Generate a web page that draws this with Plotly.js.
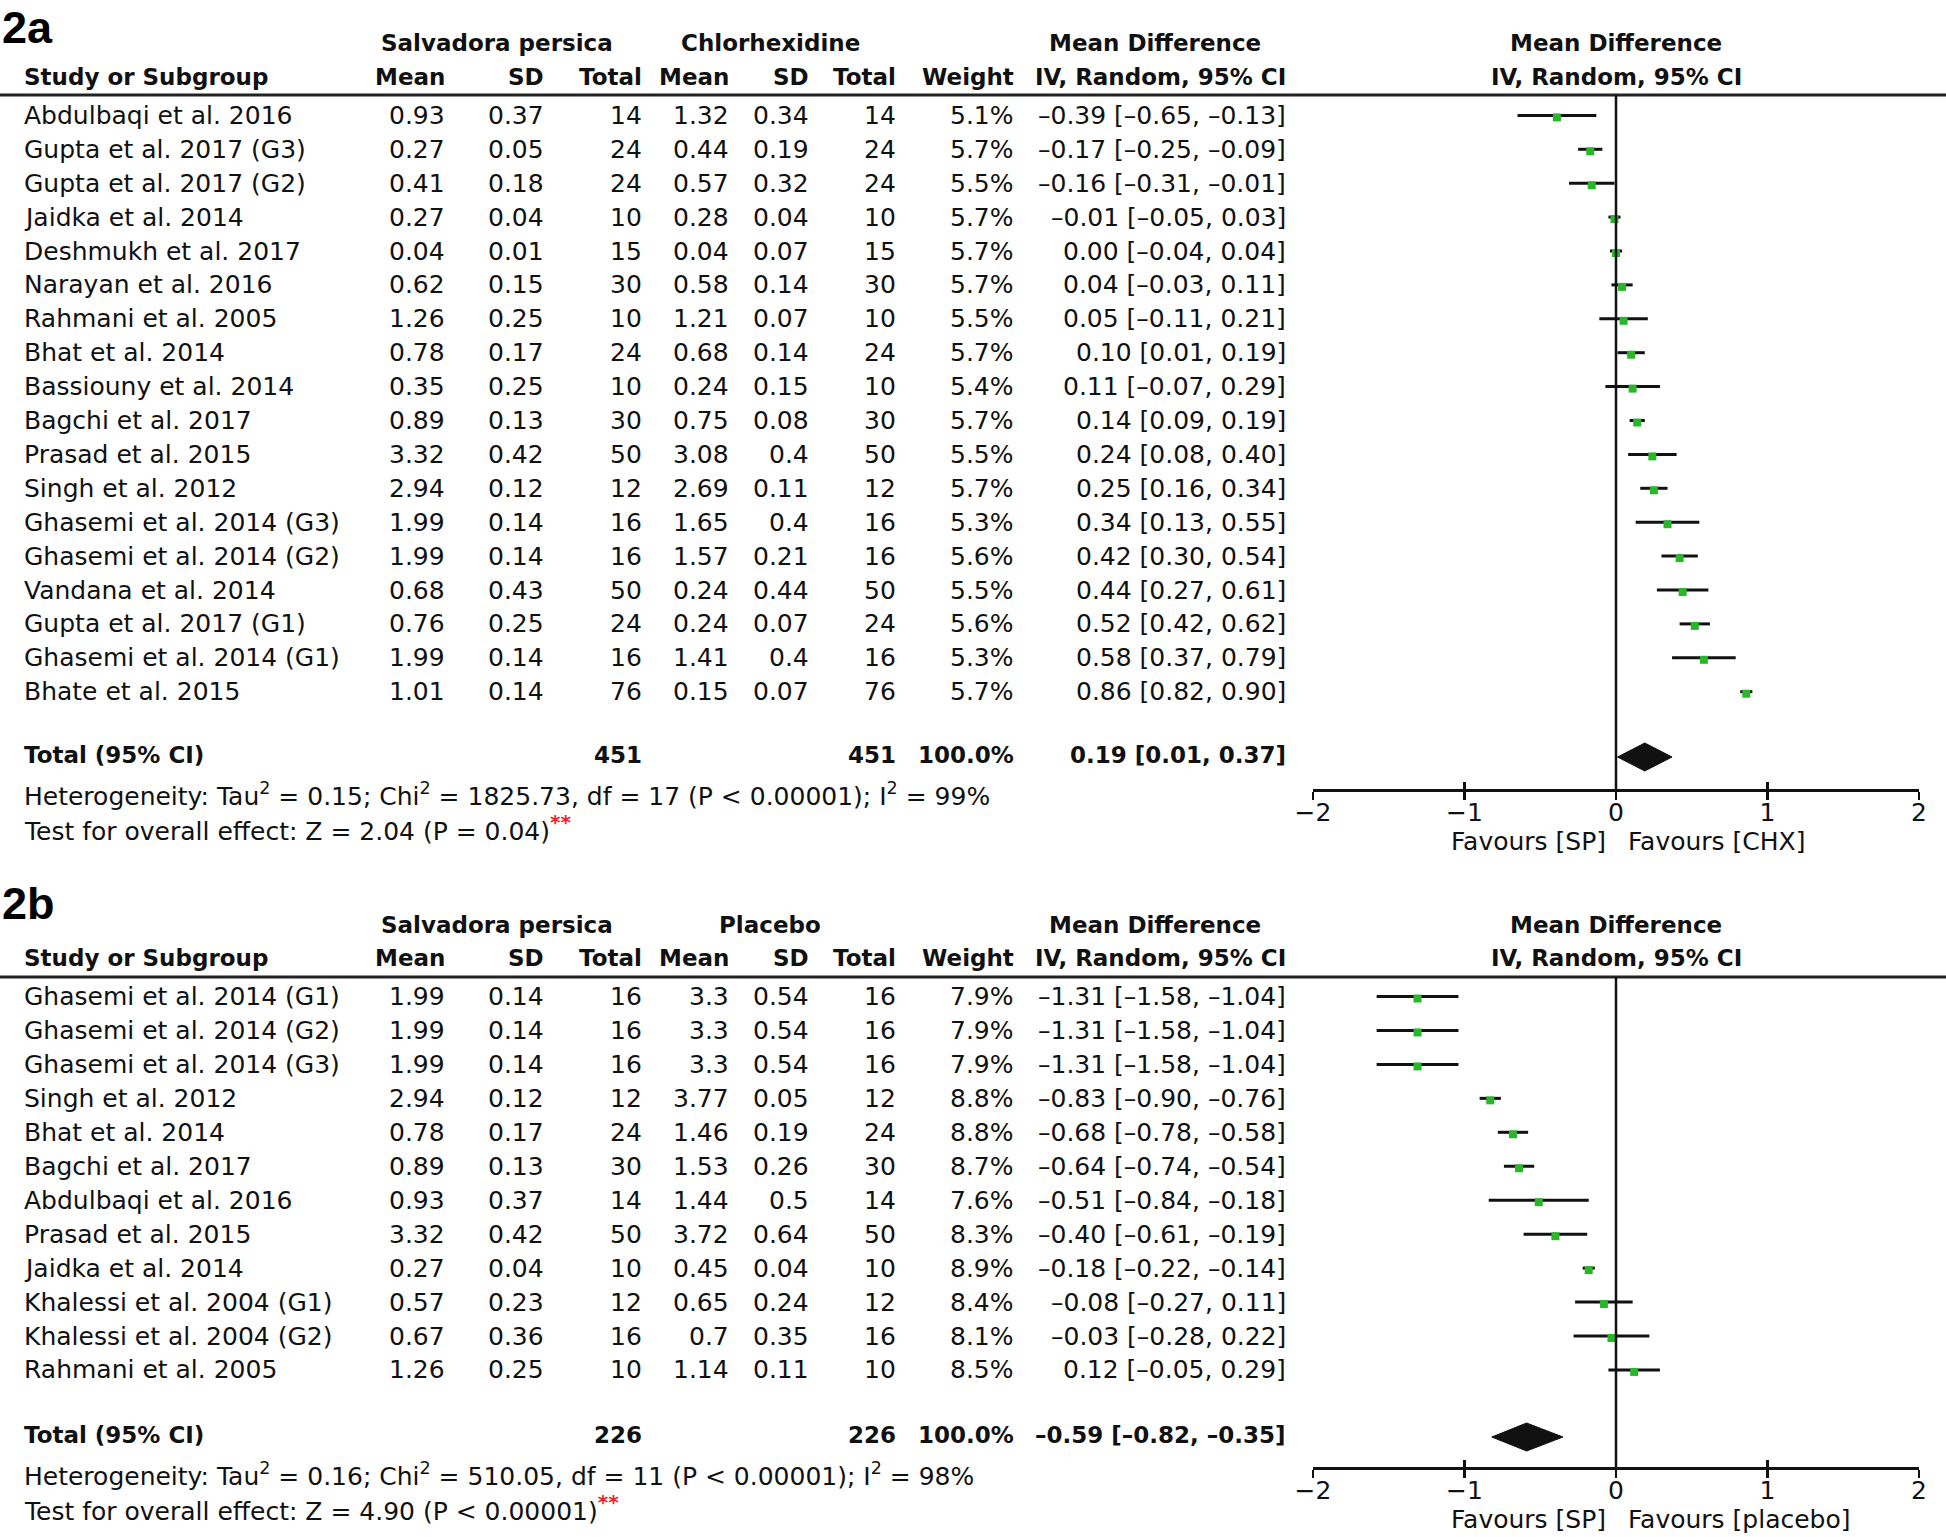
<!DOCTYPE html>
<html><head><meta charset="utf-8">
<script src="https://cdn.plot.ly/plotly-3.0.1.min.js"></script>
<style>html,body{margin:0;padding:0;background:#fff}#chart{width:1946px;height:1537px}</style>
</head><body><div id="chart"></div>
<script>
// ---------- Panel 2a : Salvadora persica vs Chlorhexidine ----------
const studiesA = ["Abdulbaqi et al. 2016","Gupta et al. 2017 (G3)","Gupta et al. 2017 (G2)","Jaidka et al. 2014","Deshmukh et al. 2017","Narayan et al. 2016","Rahmani et al. 2005","Bhat et al. 2014","Bassiouny et al. 2014","Bagchi et al. 2017","Prasad et al. 2015","Singh et al. 2012","Ghasemi et al. 2014 (G3)","Ghasemi et al. 2014 (G2)","Vandana et al. 2014","Gupta et al. 2017 (G1)","Ghasemi et al. 2014 (G1)","Bhate et al. 2015"];
const spMeanA = ["0.93","0.27","0.41","0.27","0.04","0.62","1.26","0.78","0.35","0.89","3.32","2.94","1.99","1.99","0.68","0.76","1.99","1.01"];
const spSdA   = ["0.37","0.05","0.18","0.04","0.01","0.15","0.25","0.17","0.25","0.13","0.42","0.12","0.14","0.14","0.43","0.25","0.14","0.14"];
const spNA    = [14,24,24,10,15,30,10,24,10,30,50,12,16,16,50,24,16,76];
const ctMeanA = ["1.32","0.44","0.57","0.28","0.04","0.58","1.21","0.68","0.24","0.75","3.08","2.69","1.65","1.57","0.24","0.24","1.41","0.15"];
const ctSdA   = ["0.34","0.19","0.32","0.04","0.07","0.14","0.07","0.14","0.15","0.08","0.4","0.11","0.4","0.21","0.44","0.07","0.4","0.07"];
const ctNA    = [14,24,24,10,15,30,10,24,10,30,50,12,16,16,50,24,16,76];
const weightA = [5.1,5.7,5.5,5.7,5.7,5.7,5.5,5.7,5.4,5.7,5.5,5.7,5.3,5.6,5.5,5.6,5.3,5.7];
const mdA     = [-0.39,-0.17,-0.16,-0.01,0.00,0.04,0.05,0.10,0.11,0.14,0.24,0.25,0.34,0.42,0.44,0.52,0.58,0.86];
const loA     = [-0.65,-0.25,-0.31,-0.05,-0.04,-0.03,-0.11,0.01,-0.07,0.09,0.08,0.16,0.13,0.30,0.27,0.42,0.37,0.82];
const hiA     = [-0.13,-0.09,-0.01,0.03,0.04,0.11,0.21,0.19,0.29,0.19,0.40,0.34,0.55,0.54,0.61,0.62,0.79,0.90];
const totalA  = {spN:451, ctN:451, weight:"100.0", md:0.19, lo:0.01, hi:0.37};
const hetA    = "Heterogeneity: Tau<sup>2</sup> = 0.15; Chi<sup>2</sup> = 1825.73, df = 17 (P < 0.00001); I<sup>2</sup> = 99%";
const testA   = "Test for overall effect: Z = 2.04 (P = 0.04)";

// ---------- Panel 2b : Salvadora persica vs Placebo ----------
const studiesB = ["Ghasemi et al. 2014 (G1)","Ghasemi et al. 2014 (G2)","Ghasemi et al. 2014 (G3)","Singh et al. 2012","Bhat et al. 2014","Bagchi et al. 2017","Abdulbaqi et al. 2016","Prasad et al. 2015","Jaidka et al. 2014","Khalessi et al. 2004 (G1)","Khalessi et al. 2004 (G2)","Rahmani et al. 2005"];
const spMeanB = ["1.99","1.99","1.99","2.94","0.78","0.89","0.93","3.32","0.27","0.57","0.67","1.26"];
const spSdB   = ["0.14","0.14","0.14","0.12","0.17","0.13","0.37","0.42","0.04","0.23","0.36","0.25"];
const spNB    = [16,16,16,12,24,30,14,50,10,12,16,10];
const ctMeanB = ["3.3","3.3","3.3","3.77","1.46","1.53","1.44","3.72","0.45","0.65","0.7","1.14"];
const ctSdB   = ["0.54","0.54","0.54","0.05","0.19","0.26","0.5","0.64","0.04","0.24","0.35","0.11"];
const ctNB    = [16,16,16,12,24,30,14,50,10,12,16,10];
const weightB = [7.9,7.9,7.9,8.8,8.8,8.7,7.6,8.3,8.9,8.4,8.1,8.5];
const mdB     = [-1.31,-1.31,-1.31,-0.83,-0.68,-0.64,-0.51,-0.40,-0.18,-0.08,-0.03,0.12];
const loB     = [-1.58,-1.58,-1.58,-0.90,-0.78,-0.74,-0.84,-0.61,-0.22,-0.27,-0.28,-0.05];
const hiB     = [-1.04,-1.04,-1.04,-0.76,-0.58,-0.54,-0.18,-0.19,-0.14,0.11,0.22,0.29];
const totalB  = {spN:226, ctN:226, weight:"100.0", md:-0.59, lo:-0.82, hi:-0.35};
const hetB    = "Heterogeneity: Tau<sup>2</sup> = 0.16; Chi<sup>2</sup> = 510.05, df = 11 (P < 0.00001); I<sup>2</sup> = 98%";
const testB   = "Test for overall effect: Z = 4.90 (P < 0.00001)";

const tickVals = [-2,-1,0,1,2];

// ---------- layout helpers ----------
const W = 1946, H = 1537;
const FONT = "DejaVu Sans";
const INK = "#111111";
const GREEN = "#2bb52b";
const col = {name:22, spMean:447, spSd:546, spN:644, ctMean:731, ctSd:811, ctN:898, weight:1016, ci:1288};
const FX0 = 1313, FX1 = 1919;

function fmt(v){ return (v < 0 ? "\u2013" : "") + Math.abs(v).toFixed(2); }
function ciText(m,l,h){ return fmt(m) + " [" + fmt(l) + ", " + fmt(h) + "]"; }

const traces = [], annotations = [], shapes = [];
function ann(text, x, y, anchor, opts){
  annotations.push(Object.assign({text:text, x:x, y:y, xref:"x3", yref:"y3", xanchor:anchor, yanchor:"middle",
    showarrow:false, font:{family:FONT, size:25, color:INK}}, opts||{}));
}
function bold(text, x, y, anchor){ ann("<b>"+text+"</b>", x, y, anchor, {font:{family:FONT, size:23, color:INK}}); }

function panel(p){
  // panel label
  ann("<b>"+p.label+"</b>", 1, p.yLabel, "left", {yanchor:"top", borderpad:0,
    font:{family:"Liberation Sans", size:45, color:"#000"}});
  // headers
  bold(p.grpA, 497, p.yH1, "center");
  bold(p.grpB, 770, p.yH1, "center");
  bold("Mean Difference", 1155, p.yH1, "center");
  bold("Mean Difference", 1616, p.yH1, "center");
  bold("Study or Subgroup", col.name, p.yH2, "left");
  bold("Mean", col.spMean, p.yH2, "right");
  bold("SD", col.spSd, p.yH2, "right");
  bold("Total", col.spN, p.yH2, "right");
  bold("Mean", col.ctMean, p.yH2, "right");
  bold("SD", col.ctSd, p.yH2, "right");
  bold("Total", col.ctN, p.yH2, "right");
  bold("Weight", col.weight, p.yH2, "right");
  bold("IV, Random, 95% CI", col.ci, p.yH2, "right");
  bold("IV, Random, 95% CI", 1616, p.yH2, "center");
  shapes.push({type:"line", xref:"paper", yref:"y3", x0:0, x1:1, y0:p.yLine, y1:p.yLine, line:{color:"#222", width:3}});

  const ys = p.names.map((_, i) => p.y0 + i*p.dy);
  p.names.forEach((n,i) => {
    const y = ys[i];
    ann(n, col.name, y, "left");
    ann(p.spMean[i], col.spMean, y, "right");
    ann(p.spSd[i], col.spSd, y, "right");
    ann(String(p.spN[i]), col.spN, y, "right");
    ann(p.ctMean[i], col.ctMean, y, "right");
    ann(p.ctSd[i], col.ctSd, y, "right");
    ann(String(p.ctN[i]), col.ctN, y, "right");
    ann(p.weight[i].toFixed(1)+"%", col.weight, y, "right");
    ann(ciText(p.md[i], p.lo[i], p.hi[i]), col.ci, y, "right");
  });
  // totals
  bold("Total (95% CI)", col.name, p.yTot, "left");
  bold(String(p.tot.spN), col.spN, p.yTot, "right");
  bold(String(p.tot.ctN), col.ctN, p.yTot, "right");
  bold(p.tot.weight+"%", col.weight, p.yTot, "right");
  bold(ciText(p.tot.md, p.tot.lo, p.tot.hi), col.ci, p.yTot, "right");
  ann(p.het, col.name, p.yHet, "left");
  ann(p.test + "<sup><span style='color:#e8242b;font-size:20px'><b>**</b></span></sup>", col.name, p.yTest, "left");

  // CI lines
  const lx = [], ly = [];
  p.names.forEach((_, i) => { lx.push(p.lo[i], p.hi[i], null); ly.push(ys[i], ys[i], null); });
  traces.push({type:"scatter", mode:"lines", x:lx, y:ly, xaxis:p.xa, yaxis:"y3",
    line:{color:INK, width:3}, hoverinfo:"skip", showlegend:false});
  // point estimates
  traces.push({type:"scatter", mode:"markers", x:p.md, y:ys.map(v=>v+2), xaxis:p.xa, yaxis:"y3",
    marker:{symbol:"square", size:8, color:GREEN, line:{width:0}}, showlegend:false});
  // diamond
  const t = p.tot, yt = p.yTot + 2, hh = 14;
  traces.push({type:"scatter", mode:"lines", x:[t.lo, t.md, t.hi, t.md, t.lo], y:[yt, yt-hh, yt, yt+hh, yt],
    xaxis:p.xa, yaxis:"y3", fill:"toself", fillcolor:INK, line:{color:INK, width:1}, showlegend:false});
  // zero line
  shapes.push({type:"line", xref:p.xa, yref:"y3", x0:0, x1:0, y0:p.yLine, y1:p.yAxis, line:{color:INK, width:2.5}});
  // favours
  ann("Favours [SP]", 0, p.yFav, "right", {xref:p.xa, xshift:-8});
  ann(p.fav2, 0, p.yFav, "left", {xref:p.xa, xshift:10});
}

panel({label:"2a", yLabel:1, grpA:"Salvadora persica", grpB:"Chlorhexidine", yH1:43, yH2:77, yLine:95,
  y0:115.4, dy:33.9, names:studiesA, spMean:spMeanA, spSd:spSdA, spN:spNA, ctMean:ctMeanA, ctSd:ctSdA, ctN:ctNA,
  weight:weightA, md:mdA, lo:loA, hi:hiA, tot:totalA, yTot:755, yHet:794, yTest:828, het:hetA, test:testA,
  xa:"x", yAxis:790, yFav:841, fav2:"Favours [CHX]"});
panel({label:"2b", yLabel:877, grpA:"Salvadora persica", grpB:"Placebo", yH1:925, yH2:958, yLine:977,
  y0:996.5, dy:33.95, names:studiesB, spMean:spMeanB, spSd:spSdB, spN:spNB, ctMean:ctMeanB, ctSd:ctSdB, ctN:ctNB,
  weight:weightB, md:mdB, lo:loB, hi:hiB, tot:totalB, yTot:1435, yHet:1474, yTest:1508, het:hetB, test:testB,
  xa:"x2", yAxis:1468, yFav:1519, fav2:"Favours [placebo]"});

const dom = [FX0/W, FX1/W];
function fAxis(yPix, over){
  const a = {domain:dom, range:[-2,2], anchor:"free", position:1 - yPix/H, showgrid:false, zeroline:false,
    tickmode:"array", tickvals:tickVals, tickwidth:2.5, tickcolor:INK, ticklen:8, fixedrange:true};
  if (over){ Object.assign(a, {overlaying:over, ticks:"inside", showticklabels:false, showline:false}); }
  else { Object.assign(a, {ticks:"outside", showline:true, linecolor:INK, linewidth:2.5, ticklabelstandoff:-9,
    tickfont:{family:FONT, size:25, color:INK}}); }
  return a;
}

const layout = {
  width:W, height:H, margin:{l:0, r:0, t:0, b:0}, paper_bgcolor:"#fff", plot_bgcolor:"rgba(0,0,0,0)",
  font:{family:FONT, size:25, color:INK}, showlegend:false,
  xaxis: fAxis(790), xaxis2: fAxis(1468), xaxis4: fAxis(790, "x"), xaxis5: fAxis(1468, "x2"),
  xaxis3:{domain:[0,1], range:[0,W], visible:false, fixedrange:true},
  yaxis3:{domain:[0,1], range:[H,0], visible:false, anchor:"x3", fixedrange:true},
  yaxis:{visible:false, showgrid:false, zeroline:false},
  annotations:annotations, shapes:shapes
};
traces.push({type:"scatter", mode:"markers", x:[], y:[], xaxis:"x4", yaxis:"y3", showlegend:false});
traces.push({type:"scatter", mode:"markers", x:[], y:[], xaxis:"x5", yaxis:"y3", showlegend:false});
Plotly.newPlot("chart", traces, layout, {staticPlot:true});
</script></body></html>
